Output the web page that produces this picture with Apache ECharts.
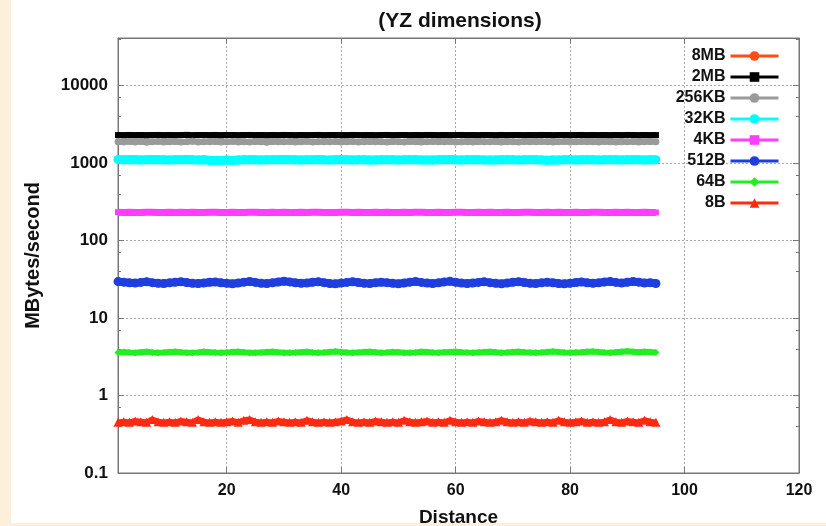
<!DOCTYPE html>
<html>
<head>
<meta charset="utf-8">
<script src="https://cdn.jsdelivr.net/npm/echarts@6/dist/echarts.min.js"></script>
<style>
html,body{margin:0;padding:0;background:#ffffff;}
#c{width:826px;height:526px;}
</style>
</head>
<body>
<div id="c"></div>
<script>
var titleText = '(YZ dimensions)';
var xName = 'Distance';
var yName = 'MBytes/second';
var seriesNames = ['8MB','2MB','256KB','32KB','4KB','512B','64B','8B'];

var distance = [1,2,3,4,5,6,7,8,9,10,11,12,13,14,15,16,17,18,19,20,
21,22,23,24,25,26,27,28,29,30,31,32,33,34,35,36,37,38,39,40,
41,42,43,44,45,46,47,48,49,50,51,52,53,54,55,56,57,58,59,60,
61,62,63,64,65,66,67,68,69,70,71,72,73,74,75,76,77,78,79,80,
81,82,83,84,85,86,87,88,89,90,91,92,93,94,95];

var s8MB = [2330,2340,2320,2335,2330,2345,2325,2330,2340,2320,
2335,2330,2325,2340,2330,2335,2320,2330,2345,2330,
2325,2335,2330,2340,2320,2330,2335,2325,2340,2330,
2330,2345,2320,2335,2330,2325,2340,2330,2335,2320,
2330,2340,2325,2335,2330,2345,2320,2330,2335,2325,
2340,2330,2330,2335,2320,2345,2330,2325,2340,2330,
2335,2320,2330,2340,2325,2335,2330,2345,2320,2330,
2330,2335,2325,2340,2330,2320,2335,2330,2345,2325,
2330,2340,2320,2335,2330,2325,2345,2330,2335,2320,
2330,2340,2325,2335,2330];

var s2MB = [2290,2280,2300,2285,2295,2275,2290,2300,2280,2295,
2285,2290,2305,2280,2290,2295,2285,2300,2275,2290,
2295,2280,2290,2300,2285,2290,2280,2295,2285,2300,
2290,2275,2295,2285,2290,2300,2280,2290,2295,2285,
2280,2300,2290,2285,2295,2275,2290,2300,2285,2290,
2295,2280,2290,2285,2300,2290,2280,2295,2285,2290,
2300,2285,2290,2280,2295,2290,2275,2300,2285,2290,
2290,2280,2295,2285,2300,2290,2280,2290,2295,2285,
2290,2300,2280,2295,2285,2290,2275,2295,2285,2300,
2290,2280,2295,2285,2290];

var s256KB = [1880,1860,1900,1870,1890,1850,1885,1900,1865,1880,
1895,1870,1880,1905,1860,1885,1875,1890,1870,1880,
1900,1865,1885,1870,1890,1880,1855,1895,1875,1880,
1890,1870,1880,1900,1865,1885,1875,1880,1895,1860,
1880,1890,1870,1885,1900,1875,1880,1865,1890,1880,
1870,1895,1880,1860,1885,1890,1875,1880,1900,1870,
1885,1880,1865,1890,1875,1880,1895,1870,1885,1880,
1860,1890,1880,1875,1900,1885,1870,1880,1890,1865,
1880,1895,1875,1885,1870,1890,1880,1860,1885,1880,
1895,1870,1880,1890,1875];

var s32KB = [1110,1105,1100,1110,1095,1105,1110,1100,1105,1095,
1100,1105,1110,1100,1095,1100,1085,1075,1080,1090,
1080,1095,1100,1105,1100,1095,1100,1105,1100,1110,
1105,1100,1095,1100,1105,1110,1100,1095,1100,1105,
1100,1095,1105,1100,1090,1095,1100,1105,1100,1095,
1100,1105,1100,1095,1090,1095,1100,1105,1110,1100,
1095,1100,1105,1100,1095,1090,1095,1100,1105,1100,
1095,1100,1105,1100,1095,1085,1090,1095,1100,1100,
1095,1100,1105,1100,1095,1100,1105,1100,1095,1100,
1105,1100,1095,1100,1100];

var s4KB = [232,230,231,229,230,232,231,230,229,231,
230,232,230,231,229,230,231,232,230,229,
231,230,230,232,231,229,230,231,230,232,
230,229,231,230,232,231,230,229,230,231,
232,230,231,229,230,231,230,232,230,229,
231,230,232,231,230,229,231,230,230,232,
231,229,230,231,230,232,230,229,231,230,
230,232,231,229,230,231,230,232,230,229,
231,230,230,232,231,229,230,231,230,232,
230,229,231,230,230];

var s512B = [29.5,29.0,28.5,28.2,28.8,29.3,28.6,28.0,27.8,28.4,
29.0,29.4,28.7,28.1,27.9,28.3,28.9,29.2,28.5,28.0,
27.7,28.2,29.0,29.6,28.8,28.1,27.8,28.4,29.1,29.8,
29.2,28.5,28.0,28.3,28.9,29.3,28.6,27.9,27.6,28.2,
28.8,29.4,28.7,28.1,27.8,28.5,29.0,28.6,28.0,27.7,
28.3,29.0,29.5,28.8,28.2,27.9,28.4,29.2,29.7,28.9,
28.2,27.8,28.3,28.8,29.3,28.6,28.0,27.7,28.2,28.9,
29.4,28.7,28.1,27.8,28.4,29.0,28.5,27.9,27.6,28.1,
28.7,29.2,28.5,28.0,28.4,29.1,29.5,28.8,28.2,28.9,
29.6,29.0,28.3,28.6,27.9];

var s64B = [3.60,3.65,3.58,3.55,3.62,3.68,3.60,3.56,3.58,3.63,
3.67,3.61,3.57,3.55,3.60,3.66,3.62,3.58,3.56,3.60,
3.64,3.68,3.62,3.57,3.55,3.59,3.63,3.67,3.61,3.57,
3.55,3.58,3.62,3.66,3.60,3.56,3.58,3.64,3.70,3.63,
3.58,3.55,3.59,3.63,3.67,3.61,3.57,3.60,3.65,3.62,
3.57,3.55,3.60,3.66,3.63,3.58,3.56,3.61,3.65,3.68,
3.62,3.58,3.55,3.59,3.63,3.66,3.61,3.57,3.60,3.64,
3.67,3.62,3.58,3.56,3.60,3.65,3.69,3.63,3.58,3.55,
3.59,3.62,3.66,3.70,3.64,3.60,3.57,3.62,3.67,3.72,
3.66,3.61,3.68,3.63,3.58];

var s8B = [0.45,0.46,0.45,0.47,0.46,0.45,0.49,0.46,0.45,0.46,
0.45,0.47,0.46,0.45,0.49,0.46,0.45,0.46,0.45,0.46,
0.47,0.45,0.48,0.49,0.46,0.45,0.46,0.45,0.47,0.46,
0.45,0.46,0.45,0.48,0.46,0.45,0.46,0.45,0.46,0.47,
0.49,0.46,0.45,0.46,0.45,0.47,0.46,0.45,0.46,0.45,
0.48,0.46,0.45,0.46,0.47,0.45,0.46,0.45,0.48,0.46,
0.45,0.46,0.45,0.47,0.46,0.45,0.46,0.48,0.46,0.45,
0.46,0.45,0.47,0.46,0.45,0.46,0.45,0.48,0.46,0.45,
0.46,0.47,0.45,0.46,0.45,0.46,0.49,0.46,0.45,0.47,
0.46,0.45,0.48,0.46,0.45];

var allValues = [s8MB, s2MB, s256KB, s32KB, s4KB, s512B, s64B, s8B];
var colors = ['#ff4d1a','#000000','#9a9a9a','#00ffff','#ff3cff','#1f3ee0','#22ee22','#ff2a10'];
var symbols = ['circle','rect','circle','circle','rect','circle','diamond','triangle'];
var symbolSizes = [3,6,7,9,6,9,7,9];
var lineWidths = [2,6,6,9,7,8,6,6];

function pairs(vals){
  var out = [];
  for (var i = 0; i < vals.length; i++) out.push([distance[i], vals[i]]);
  return out;
}

var FONT = 'Liberation Sans, Arial, Helvetica, sans-serif';

var series = seriesNames.map(function(name, i){
  return {
    name: name,
    type: 'line',
    data: pairs(allValues[i]),
    color: colors[i],
    symbol: symbols[i],
    symbolSize: symbolSizes[i],
    showAllSymbol: true,
    lineStyle: {width: lineWidths[i], color: colors[i]},
    itemStyle: {color: colors[i]},
    z: 3 + i,
    silent: true
  };
});

var legendData = seriesNames.map(function(name, i){
  return {
    name: name,
    itemStyle: {color: colors[i]},
    lineStyle: {width: 3, color: colors[i]}
  };
});

var chart = echarts.init(document.getElementById('c'), null, {renderer: 'canvas'});
chart.setOption({
  animation: false,
  backgroundColor: '#ffffff',
  title: {
    text: titleText,
    left: 455, top: 6, textAlign: 'center',
    textStyle: {fontFamily: FONT, fontSize: 21, fontWeight: 'bold', color: '#111'}
  },
  graphic: [
    {type: 'rect', left: 0, top: 0, shape: {width: 11, height: 526}, style: {fill: '#fcefdc'}, z: -10},
    {type: 'rect', left: 0, top: 523, shape: {width: 826, height: 3}, style: {fill: '#fcefdc'}, z: -10}
  ],
  grid: {left: 118, right: 27, top: 38, bottom: 53, outerBoundsMode: 'none', containLabel: false,
    show: true, borderColor: '#777', borderWidth: 1, backgroundColor: 'transparent'},
  legend: {
    orient: 'vertical',
    right: 46, top: 48,
    align: 'right',
    itemWidth: 48, itemHeight: 12, itemGap: 5,
    padding: 0,
    textStyle: {fontFamily: FONT, fontSize: 16, fontWeight: 'bold', color: '#111'},
    data: legendData
  },
  xAxis: [{
    type: 'value', min: 1, max: 120, splitNumber: 6,
    name: xName, nameLocation: 'middle', nameGap: 35,
    nameTextStyle: {fontFamily: FONT, fontSize: 19, fontWeight: 'bold', color: '#111'},
    axisLine: {show: true, lineStyle: {color: '#777'}},
    axisTick: {show: true, inside: true, length: 6, lineStyle: {color: '#777'}},
    axisLabel: {showMinLabel: false, margin: 10, fontFamily: FONT, fontSize: 16, fontWeight: 'bold', color: '#111'},
    splitLine: {show: true, lineStyle: {color: '#aaa', type: [2,2], width: 1}}
  },{
    type: 'value', min: 1, max: 120, splitNumber: 6, position: 'top',
    axisLine: {show: true, lineStyle: {color: '#777'}},
    axisTick: {show: true, inside: true, length: 6, lineStyle: {color: '#777'}},
    axisLabel: {show: false}, splitLine: {show: false}
  }],
  yAxis: [{
    type: 'log', logBase: 10, min: 0.1, max: 41000,
    name: yName, nameLocation: 'middle', nameGap: 75, nameRotate: 90,
    nameTextStyle: {fontFamily: FONT, fontSize: 20, fontWeight: 'bold', color: '#111'},
    axisLine: {show: true, lineStyle: {color: '#777'}},
    axisTick: {show: true, inside: true, length: 6, lineStyle: {color: '#777'}},
    minorTick: {show: true, splitNumber: 3, length: 3, lineStyle: {color: '#777'}},
    axisLabel: {showMaxLabel: false, margin: 10, fontFamily: FONT, fontSize: 17, fontWeight: 'bold', color: '#111',
      formatter: function(v){ return String(v); }},
    splitLine: {show: true, lineStyle: {color: '#aaa', type: [2,2], width: 1}}
  },{
    type: 'log', logBase: 10, min: 0.1, max: 41000, position: 'right',
    axisLine: {show: true, lineStyle: {color: '#777'}},
    axisTick: {show: true, inside: true, length: 6, lineStyle: {color: '#777'}},
    minorTick: {show: true, splitNumber: 3, length: 3, lineStyle: {color: '#777'}},
    axisLabel: {show: false}, splitLine: {show: false}
  }],
  series: series
});
</script>
</body>
</html>
